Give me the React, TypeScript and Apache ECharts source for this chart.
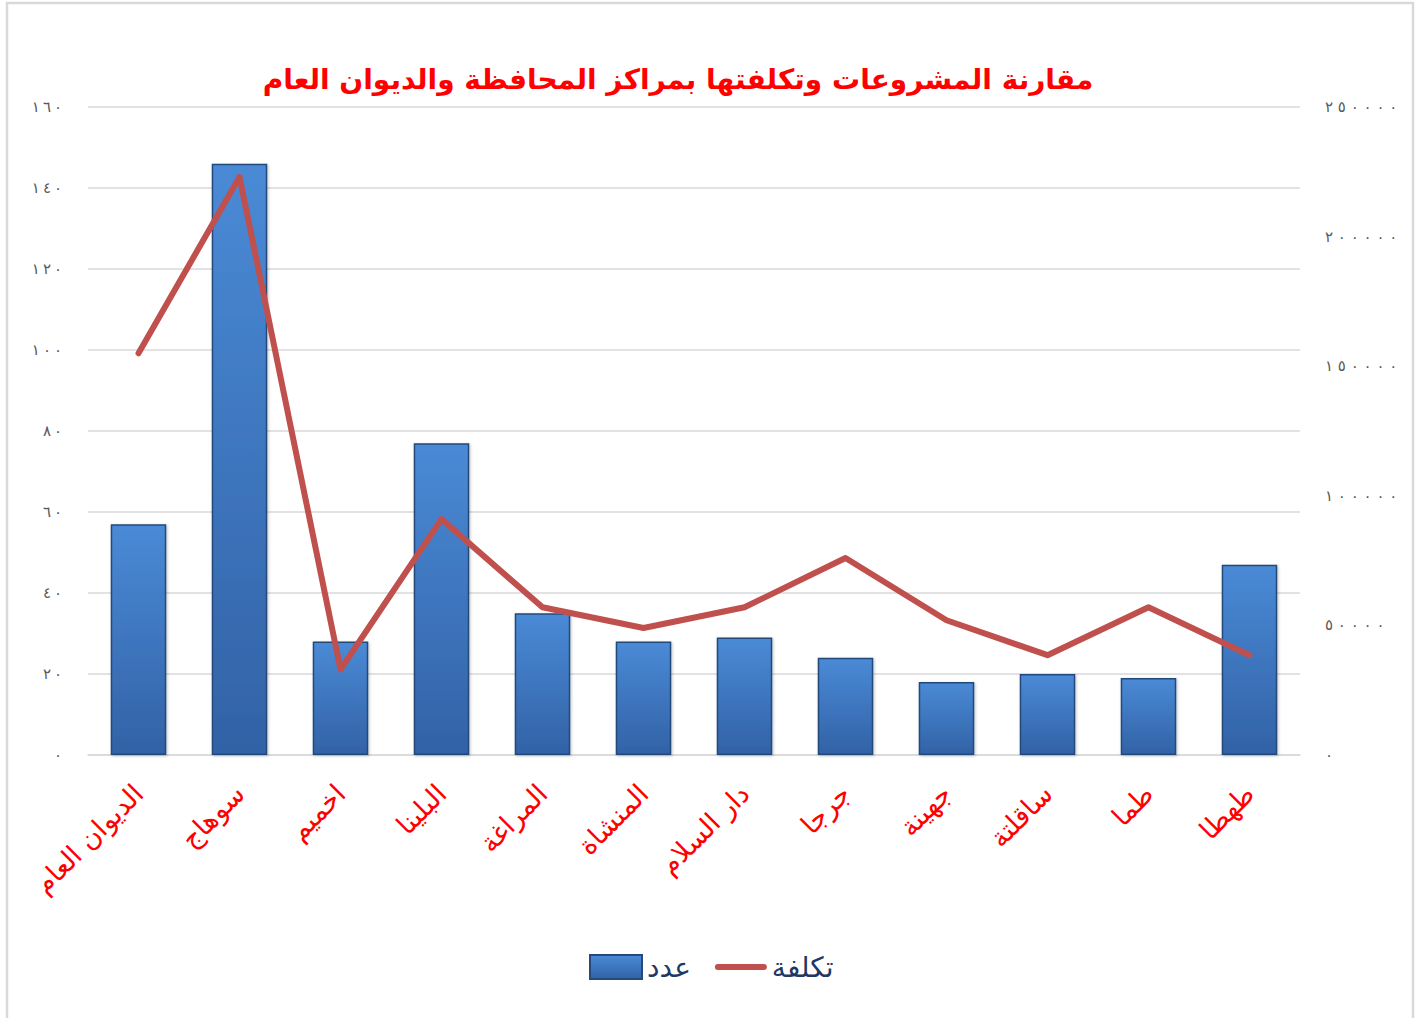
import React, { useEffect, useRef } from "react";
import * as echarts from "echarts";

const categories = [
  "الديوان العام",
  "سوهاج",
  "اخميم",
  "البلينا",
  "المراغة",
  "المنشاة",
  "دار السلام",
  "جرجا",
  "جهينة",
  "ساقلتة",
  "طما",
  "طهطا",
];

const countValues = [57, 146, 28, 77, 35, 28, 29, 24, 18, 20, 19, 47];
const costValues = [155000, 223000, 33000, 91000, 57000, 49000, 57000, 76000, 52000, 38500, 57000, 38500];

const seriesNames = ["عدد", "تكلفة"];
const titleText = "مقارنة المشروعات وتكلفتها بمراكز المحافظة والديوان العام";

const leftAxisMax = 160;
const leftAxisStep = 20;
const rightAxisMax = 250000;
const rightAxisStep = 50000;

const arabicDigits = ["٠", "١", "٢", "٣", "٤", "٥", "٦", "٧", "٨", "٩"];
const toArabicChars = (v: number) =>
  String(v)
    .split("")
    .map((c) => (c >= "0" && c <= "9" ? arabicDigits[Number(c)] : c));

const LRM = "\u200E";
const spaced = (v: number, gap: string) =>
  LRM + toArabicChars(v).join(LRM + gap) + LRM;

const FONT = "'DejaVu Sans', sans-serif";

export default function App() {
  const ref = useRef<HTMLDivElement>(null);

  useEffect(() => {
    if (!ref.current) return;
    const chart = echarts.init(ref.current, null, { renderer: "svg" });
    const barGradient = new echarts.graphic.LinearGradient(0, 0, 0, 1, [
      { offset: 0, color: "#4a8ad6" },
      { offset: 1, color: "#3262a6" },
    ]);
    chart.setOption({
      animation: false,
      backgroundColor: "#ffffff",
      graphic: [
        {
          type: "rect",
          shape: { x: 7, y: 3, width: 1406, height: 1040 },
          style: { fill: "none", stroke: "#d9d9d9", lineWidth: 2.5 },
          silent: true,
        },
      ],
      title: {
        text: titleText,
        left: 673,
        textAlign: "center",
        top: 60,
        textStyle: {
          fontFamily: FONT,
          fontSize: 28,
          fontWeight: "bold",
          color: "#ff0000",
        },
      },
      legend: {
        data: [
          { name: seriesNames[0], icon: "rect" },
          {
            name: seriesNames[1],
            icon: "path://M3,0 L49,0 A3,3 0 0 1 49,6 L3,6 A3,3 0 0 1 3,0 Z",
          },
        ],
        left: 584,
        top: 948,
        itemWidth: 52,
        itemHeight: 24,
        itemGap: 24,
        textStyle: { fontFamily: FONT, fontSize: 28, color: "#1f3864" },
      },
      grid: { left: 88, right: 118, top: 107, bottom: 263, containLabel: false },
      xAxis: {
        type: "category",
        data: categories,
        axisLine: { show: true, lineStyle: { color: "#d9d9d9", width: 1.5 } },
        axisTick: { show: false },
        axisLabel: {
          rotate: 45,
          margin: 34,
          interval: 0,
          color: "#ff0000",
          fontFamily: FONT,
          fontSize: 27,
        },
      },
      yAxis: [
        {
          type: "value",
          min: 0,
          max: leftAxisMax,
          interval: leftAxisStep,
          axisLine: { show: false },
          axisTick: { show: false },
          splitLine: { lineStyle: { color: "#d9d9d9", width: 1.5 } },
          axisLabel: {
            margin: 26,
            color: "#595959",
            fontFamily: FONT,
            fontSize: 15,
            formatter: (v: number) => spaced(v, "\u2009"),
          },
        },
        {
          type: "value",
          min: 0,
          max: rightAxisMax,
          interval: rightAxisStep,
          axisLine: { show: false },
          axisTick: { show: false },
          splitLine: { show: false },
          axisLabel: {
            margin: 25,
            color: "#595959",
            fontFamily: FONT,
            fontSize: 15,
            formatter: (v: number) => spaced(v, " "),
          },
        },
      ],
      series: [
        {
          name: seriesNames[0],
          type: "bar",
          yAxisIndex: 0,
          data: countValues,
          barWidth: "55%",
          itemStyle: {
            color: barGradient,
            borderColor: "#24497a",
            borderWidth: 1.5,
            shadowColor: "rgba(0,0,0,0.25)",
            shadowBlur: 3,
            shadowOffsetX: 1,
            shadowOffsetY: 1,
          },
        },
        {
          name: seriesNames[1],
          type: "line",
          yAxisIndex: 1,
          data: costValues,
          symbol: "none",
          itemStyle: { color: "#c0504d" },
          lineStyle: { color: "#c0504d", width: 6, cap: "round", join: "round" },
        },
      ],
    });
    return () => chart.dispose();
  }, []);

  return (
    <div
      ref={ref}
      style={{ position: "fixed", left: 0, top: 0, width: 1418, height: 1018 }}
    />
  );
}
